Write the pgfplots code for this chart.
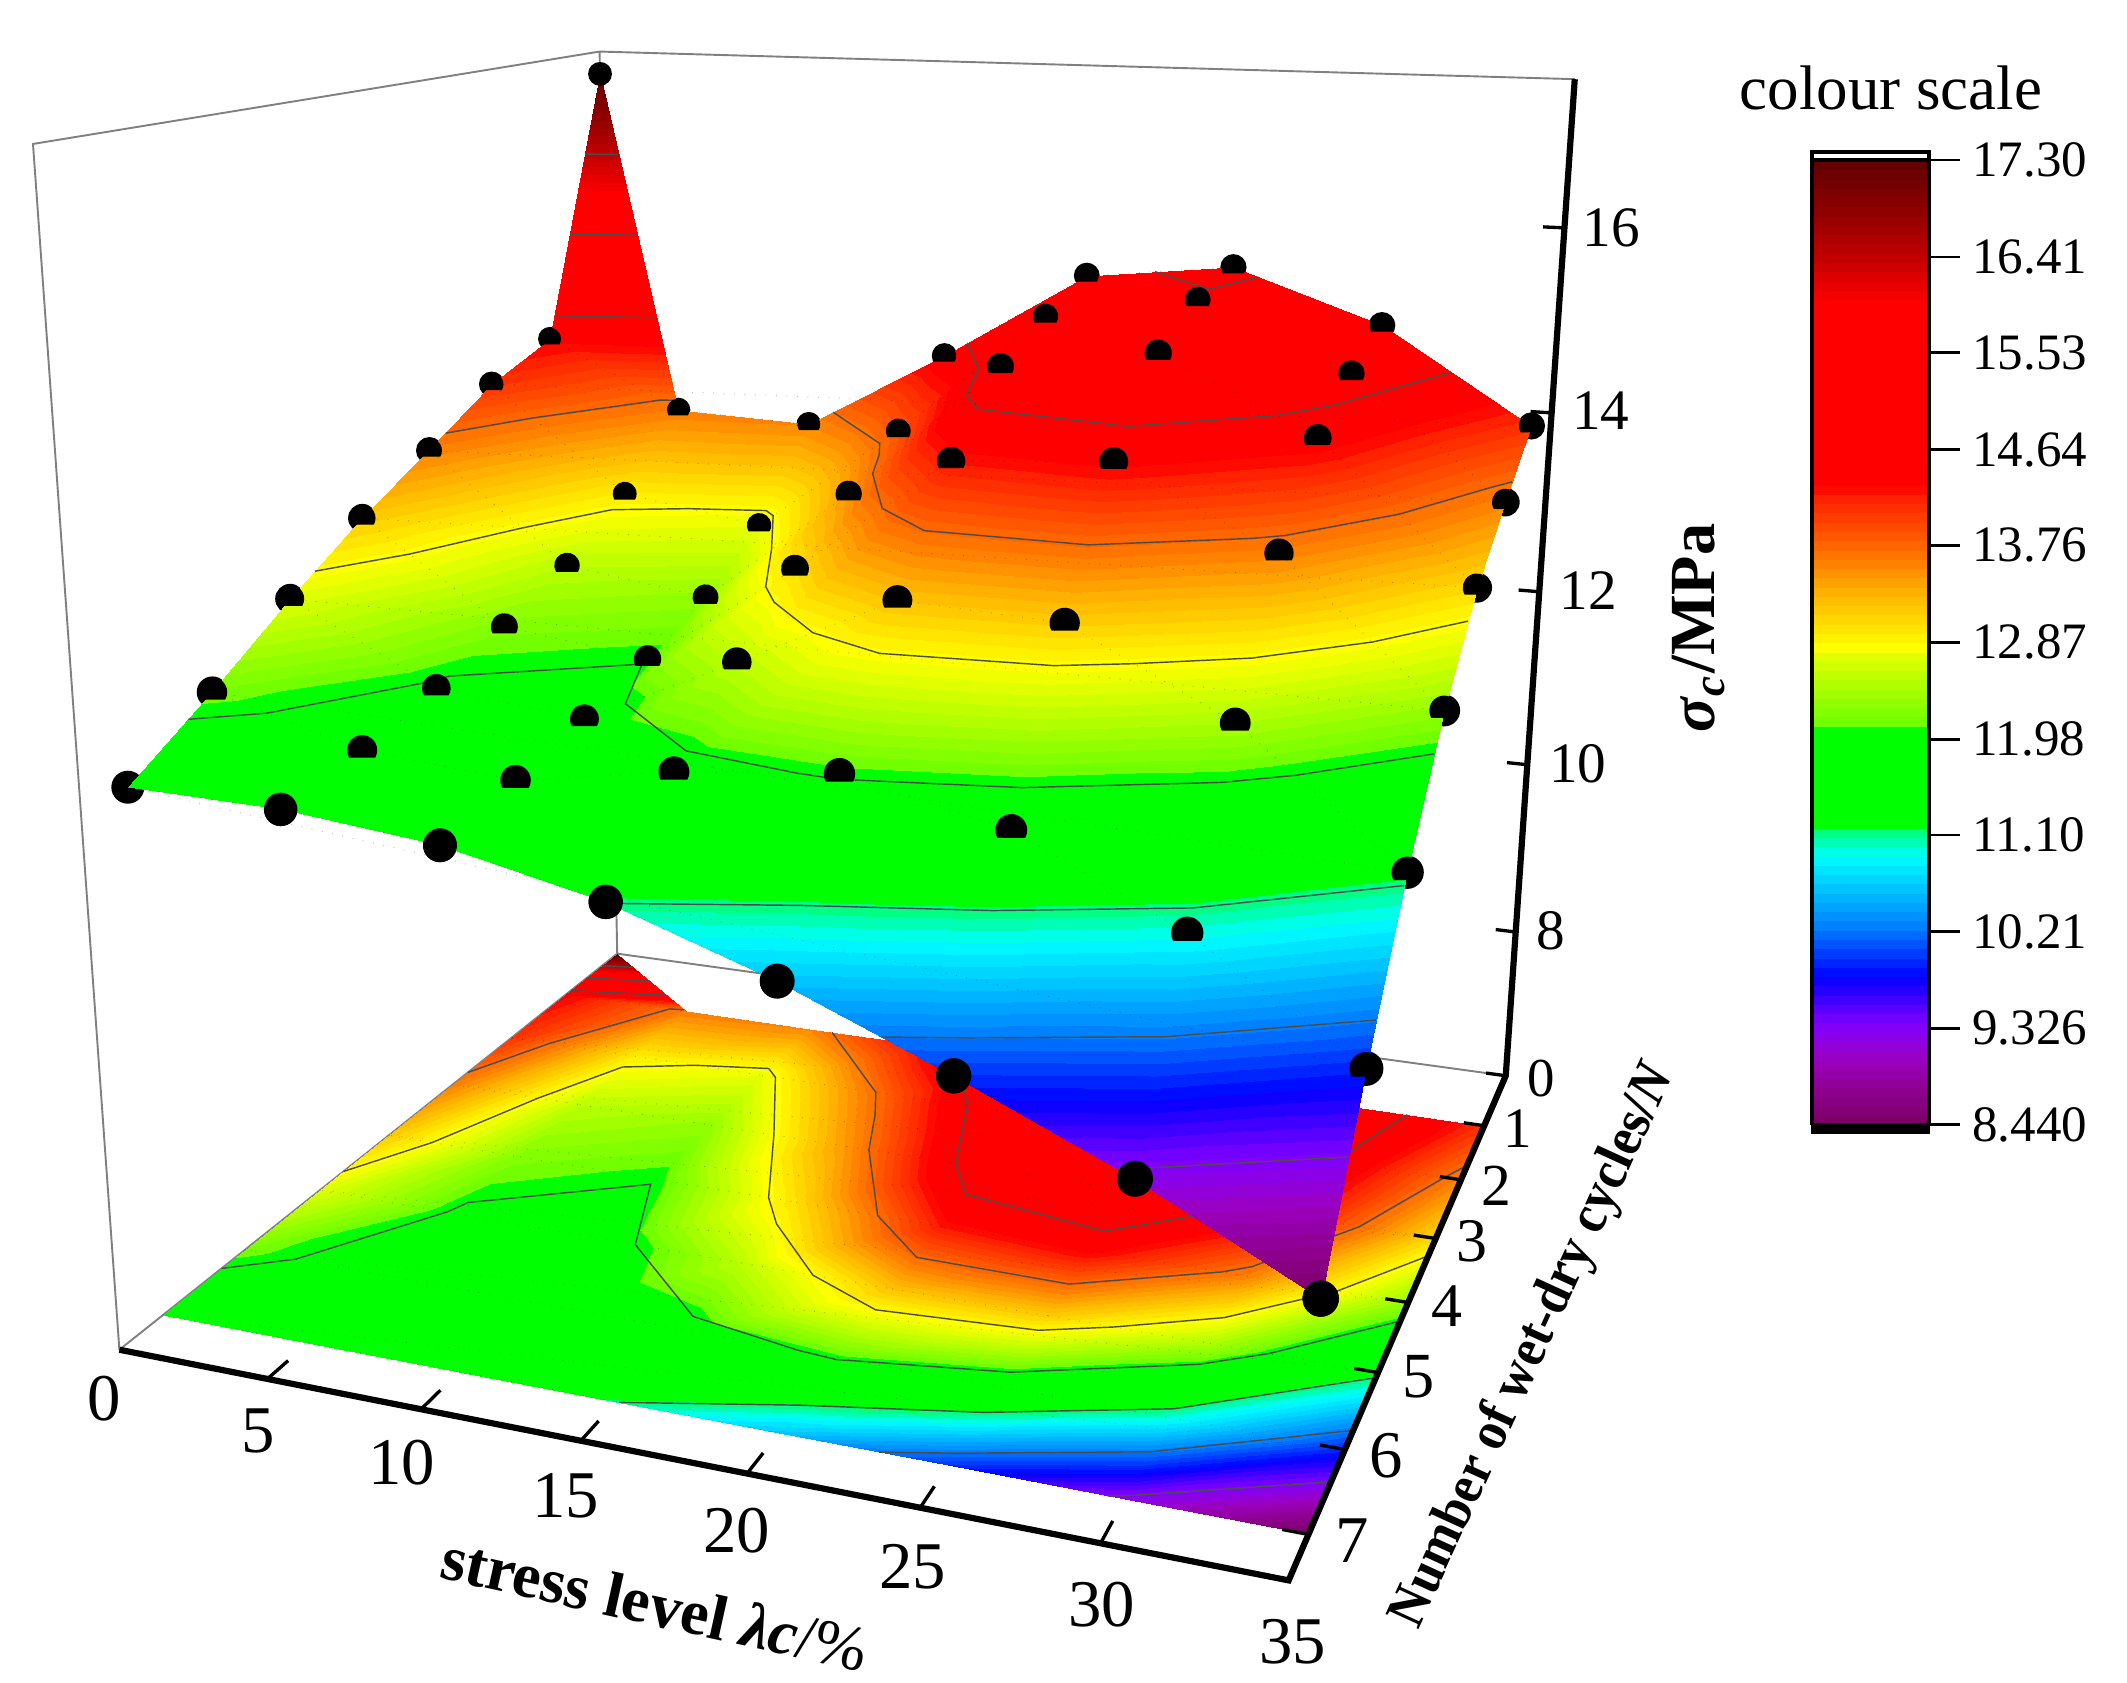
\documentclass[border=0pt]{standalone}
\usepackage{fontspec}
\setmainfont{Liberation Serif}
\usepackage{pgfplots}
\usepackage{pgfplotstable}
\pgfplotsset{compat=1.18}

% compressive strength: stress level s (%), wet-dry cycles n, sigma z (MPa)
\pgfplotstableread{
s n z
0 1 14.39
5 1 13.66
10 1 13.60
15 1 14.48
20 1 15.45
25 1 15.62
30 1 15.09
35 1 14.13
0 2 14.11
5 2 12.98
10 2 12.75
15 2 13.91
20 2 15.23
25 2 15.49
30 2 14.83
35 2 13.63
0 3 13.64
5 3 12.50
10 3 12.29
15 3 13.53
20 3 14.95
25 3 15.18
30 3 14.45
35 3 13.10
0 4 13.21
5 4 12.19
10 4 12.00
15 4 13.08
20 4 14.28
25 4 14.39
30 4 13.64
35 4 12.28
0 5 12.70
5 5 11.93
10 5 11.78
15 5 12.51
20 5 13.26
25 5 13.19
30 5 12.41
35 5 11.19
0 6 12.13
5 6 11.72
10 6 11.60
15 6 11.86
20 6 12.02
25 6 11.68
30 6 10.93
35 6 9.90
0 7 11.62
5 7 11.59
10 7 11.44
15 7 11.11
20 7 10.59
25 7 9.95
30 7 9.26
35 7 8.44
}\sigmatable

% the peak at 0 cycles, joined to the first row
\pgfplotstableread{
s n z
0 0 17.30
0 1 14.39
5 1 13.66
}\peaktable
\pgfplotstableread{
s n z
0 0 17.30
}\peakpoint

% contour levels every 0.885 MPa
\pgfplotstableread{
s n z
29.52 7 9.326
30 6.96 9.326
35 6.393 9.326
nan nan nan
22.97 7 10.21
25 6.85 10.21
30 6.431 10.21
35 5.76 10.21
nan nan nan
15.1 7 11.10
20 6.643 11.10
25 6.335 11.10
30 5.885 11.10
35 5.07 11.10
nan nan nan
0 6.294 11.98
1.83 6 11.98
4.675 5 11.98
5 4.81 11.98
10 4.09 11.98
11.37 5 11.98
15 5.815 11.98
18.75 6 11.98
20 6.028 11.98
20.59 6 11.98
25 5.80 11.98
30 5.29 11.98
31.76 5 11.98
35 4.275 11.98
nan nan nan
0 4.667 12.87
1.67 4 12.87
3.38 3 12.87
5 2.229 12.87
7.39 2 12.87
10 1.859 12.87
10.52 2 12.87
12.34 3 12.87
14.03 4 12.87
15 4.368 12.87
17.4 5 12.87
20 5.315 12.87
25 5.212 12.87
27.05 5 12.87
30 4.626 12.87
32.83 4 12.87
35 3.28 12.87
nan nan nan
4.86 0.9725 13.76
4.315 1 13.76
1.55 2 13.76
0 2.745 13.76
nan nan nan
10.91 1 13.76
14.35 2 13.76
15 2.395 13.76
15.81 3 13.76
17.83 4 13.76
20 4.51 13.76
25 4.525 13.76
29.2 4 13.76
30 3.852 13.76
32.56 3 13.76
34.46 2 13.76
35 1.74 13.76
nan nan nan
0 0.914 14.64
3.65 0.731 14.64
nan nan nan
15.82 1 14.64
17.77 2 14.64
18.91 3 14.64
20 3.463 14.64
25 3.684 14.64
28.7 3 14.64
30 2.5 14.64
30.79 2 14.64
32.34 1 14.64
nan nan nan
0 0.608 15.53
2.43 0.486 15.53
nan nan nan
22.35 1 15.53
25 1.692 15.53
25.85 1 15.53
nan nan nan
0 0.306 16.41
1.22 0.2445 16.41
}\contourtable

% thin back edges of the box
\pgfplotstableread{
s n z
0 7.5 6.228
0 7.5 17.558
0 0 17.558
35 0 17.558
nan nan nan
0 7.5 6.228
0 0 6.228
35 0 6.228
nan nan nan
0 0 6.228
0 0 17.558
}\boxtable

% thick front axes and tick marks
\pgfplotstableread{
s n z
0 7.5 6.228
35 7.5 6.228
35 0 6.228
35 0 17.558
}\axistable
\pgfplotstableread{
s n z
5 7.5 6.228
5 7.25 6.228
nan nan nan
10 7.5 6.228
10 7.25 6.228
nan nan nan
15 7.5 6.228
15 7.25 6.228
nan nan nan
20 7.5 6.228
20 7.25 6.228
nan nan nan
25 7.5 6.228
25 7.25 6.228
nan nan nan
30 7.5 6.228
30 7.25 6.228
nan nan nan
35 0 6.228
34.3 0 6.228
nan nan nan
35 1 6.228
34.3 1 6.228
nan nan nan
35 2 6.228
34.3 2 6.228
nan nan nan
35 3 6.228
34.3 3 6.228
nan nan nan
35 4 6.228
34.3 4 6.228
nan nan nan
35 5 6.228
34.3 5 6.228
nan nan nan
35 6 6.228
34.3 6 6.228
nan nan nan
35 7 6.228
34.3 7 6.228
nan nan nan
35 0 8
34.3 0 8
nan nan nan
35 0 10
34.3 0 10
nan nan nan
35 0 12
34.3 0 12
nan nan nan
35 0 14
34.3 0 14
nan nan nan
35 0 16
34.3 0 16
}\ticktable

% upper part of a disc: the part of a point that stands out of the surface
\pgfdeclareplotmark{dome}{%
    \pgfpathmoveto{\pgfqpointpolar{210}{\pgfplotmarksize}}%
    \pgfpatharc{210}{-30}{\pgfplotmarksize}%
    \pgfpathclose
    \pgfusepathqfill}

\pgfplotsset{
    colormap={stressfine}{[1pt]
        rgb255(0pt)=(125,0,105) rgb255(26pt)=(140,0,140) rgb255(56pt)=(155,0,190)
        rgb255(89pt)=(128,0,255) rgb255(132pt)=(0,0,255) rgb255(177pt)=(0,125,255)
        rgb255(243pt)=(0,255,255) rgb255(266pt)=(0,255,120) rgb255(267pt)=(0,255,0)
        rgb255(363pt)=(0,255,0) rgb255(364pt)=(110,255,0) rgb255(443pt)=(255,255,0)
        rgb255(486pt)=(255,190,0) rgb255(532pt)=(255,110,0) rgb255(581pt)=(255,30,0)
        rgb255(591pt)=(255,0,0) rgb255(760pt)=(255,0,0) rgb255(797pt)=(200,0,0)
        rgb255(846pt)=(140,0,0) rgb255(886pt)=(100,0,0)
    },
    colormap={stress}{samples of colormap=(105 of stressfine)},
    /pgfplots/table/upper/.style={
        x expr={px(\thisrow{s},\thisrow{n},\thisrow{z})},
        y expr={py(\thisrow{s},\thisrow{n},\thisrow{z})},
        meta=z},
    /pgfplots/table/floor/.style={
        x expr={px(\thisrow{s},\thisrow{n},6.228)},
        y expr={py(\thisrow{s},\thisrow{n},6.228)},
        meta=z},
    picture axis/.style={
        width=15.68cm, height=12.4cm, scale only axis,
        xmin=0, xmax=1568, ymin=0, ymax=1240, y dir=reverse,
        hide axis, clip=false,
        colormap name=stress,
        colormap access=piecewise constant,
        point meta min=8.44, point meta max=17.30,
        point meta=explicit},
    dots/.style={only marks, mark=*, scatter, scatter/use mapped color={draw=black, fill=black},
        visualization depends on={\thisrow{n} \as \rown},
        visualization depends on={\thisrow{s} \as \colm},
        scatter/@pre marker code/.append style={/tikz/mark size=2.3+0.16*(\rown-1)+0.01*\colm}},
    contourline/.style={draw=black!70, line width=0.3pt, unbounded coords=jump},
    gridline/.style={mesh, draw=black, draw opacity=0.25, line width=0.2pt, dotted},
}

\begin{document}
% perspective of the box: s, n, z to picture position
\begin{tikzpicture}[declare function={
    pw(\a,\b,\c)=1-0.09708*\a/35-0.25816*\b/7.5-0.082*(\c-6.228)/11.33;
    px(\a,\b,\c)=(455+547.24*\a/35-389.72*\b/7.5-49.24*(\c-6.228)/11.33)/pw(\a,\b,\c);
    py(\a,\b,\c)=(703+13.02*\a/35+35.13*\b/7.5-668.12*(\c-6.228)/11.33)/pw(\a,\b,\c);
}]
\path[use as bounding box] (0,0) rectangle (15.68cm,12.4cm);

% first axis: what lies behind the surface
\begin{axis}[picture axis]
\addplot[gray, line width=0.4pt, unbounded coords=jump] table[upper] {\boxtable};
\addplot[surf, shader=interp, mesh/cols=8, mesh/rows=7] table[floor] {\sigmatable};
\addplot[patch, patch type=triangle, shader=interp] table[floor] {\peaktable};
\addplot[gridline, mesh/cols=8, mesh/rows=7] table[floor] {\sigmatable};
\addplot[contourline] table[floor] {\contourtable};
% full points, mostly covered by the surface
\addplot[dots] table[upper] {\sigmatable};
\end{axis}

% second axis: surface, axes, labels, colour scale
\begin{axis}[picture axis,
    colorbar sampled,
    colorbar style={
        at={(parent axis.south west)}, anchor=south west,
        xshift=13.06cm, yshift=4.11cm,
        width=0.86cm, height=7.11cm,
        samples=105,
        ytick={8.44,9.326,10.21,11.10,11.98,12.87,13.76,14.64,15.53,16.41,17.30},
        yticklabels={8.440,9.326,10.21,11.10,11.98,12.87,13.76,14.64,15.53,16.41,17.30},
        ytick pos=right, tick align=outside, major tick length=0.23cm,
        yticklabel style={font=\fontsize{10.7}{12}\selectfont, xshift=-1pt},
        tick style={black, line width=0.6pt},
        axis line style={line width=0.8pt},
    },
]
\addplot[surf, shader=interp, mesh/cols=8, mesh/rows=7] table[upper] {\sigmatable};
\addplot[patch, patch type=triangle, shader=interp] table[upper] {\peaktable};
\addplot[gridline, mesh/cols=8, mesh/rows=7] table[upper] {\sigmatable};
\addplot[contourline] table[upper] {\contourtable};

% rows 1 to 6 show only their upper part, front row and peak stand clear
\addplot[dots, mark=dome, skip coords between index={48}{56}] table[upper] {\sigmatable};
\addplot[dots, skip coords between index={0}{49}] table[upper] {\sigmatable};
\addplot[only marks, mark=*, mark size=2.3pt, black] table[upper] {\peakpoint};

% axes
\addplot[black, line width=1.3pt, line join=miter] table[upper] {\axistable};
\addplot[black, line width=0.7pt, unbounded coords=jump] table[upper] {\ticktable};

% tick labels follow the box
\foreach \lab/\x/\y in {0/77/1031,5/190/1055,10/296/1078,15/417/1103,20/543/1128,25/673/1155,30/812/1183,35/953/1210}
    {\edef\tmp{\noexpand\node[font=\noexpand\fontsize{14}{16}\noexpand\selectfont] at (axis cs:\x,\y) {\lab};}\tmp}
\foreach \lab/\x/\y/\fs in {0/1136/795/11.5,1/1119/832/12,2/1103/874/12.5,3/1085/915/13,4/1067/963/13,5/1046/1015/13.5,6/1022/1073/14,7/997/1136/14}
    {\edef\tmp{\noexpand\node[font=\noexpand\fontsize{\fs}{16}\noexpand\selectfont] at (axis cs:\x,\y) {\lab};}\tmp}
\foreach \lab/\x/\y in {16/1188/168,14/1180/303,12/1171/435,10/1163/563,8/1143/686}
    {\edef\tmp{\noexpand\node[font=\noexpand\fontsize{12}{14}\noexpand\selectfont] at (axis cs:\x,\y) {\lab};}\tmp}

% titles
\node[rotate=-12.5, font=\fontsize{13.4}{15}\selectfont] at (axis cs:483,1182) {\textbf{stress level \textit{λc}}/\%};
\node[rotate=65.4, inner sep=0pt, font=\fontsize{11.6}{14}\selectfont\bfseries] at (axis cs:1131,992) {\scalebox{0.925}[1]{Number of wet-dry cycles/\textit{N}}};
\node[rotate=90, font=\fontsize{13.5}{15}\selectfont\bfseries] at (axis cs:1252,463) {\textit{σ}\textsubscript{\textit{c}}/MPa};
\node[font=\fontsize{13.2}{15}\selectfont] at (axis cs:1394,65) {colour scale};

% colour scale frame
\draw[black, line width=0.8pt] (axis cs:1336,112) rectangle (axis cs:1422,118);
\fill[black] (axis cs:1335,829) rectangle (axis cs:1423,836);
\end{axis}
\end{tikzpicture}
\end{document}
